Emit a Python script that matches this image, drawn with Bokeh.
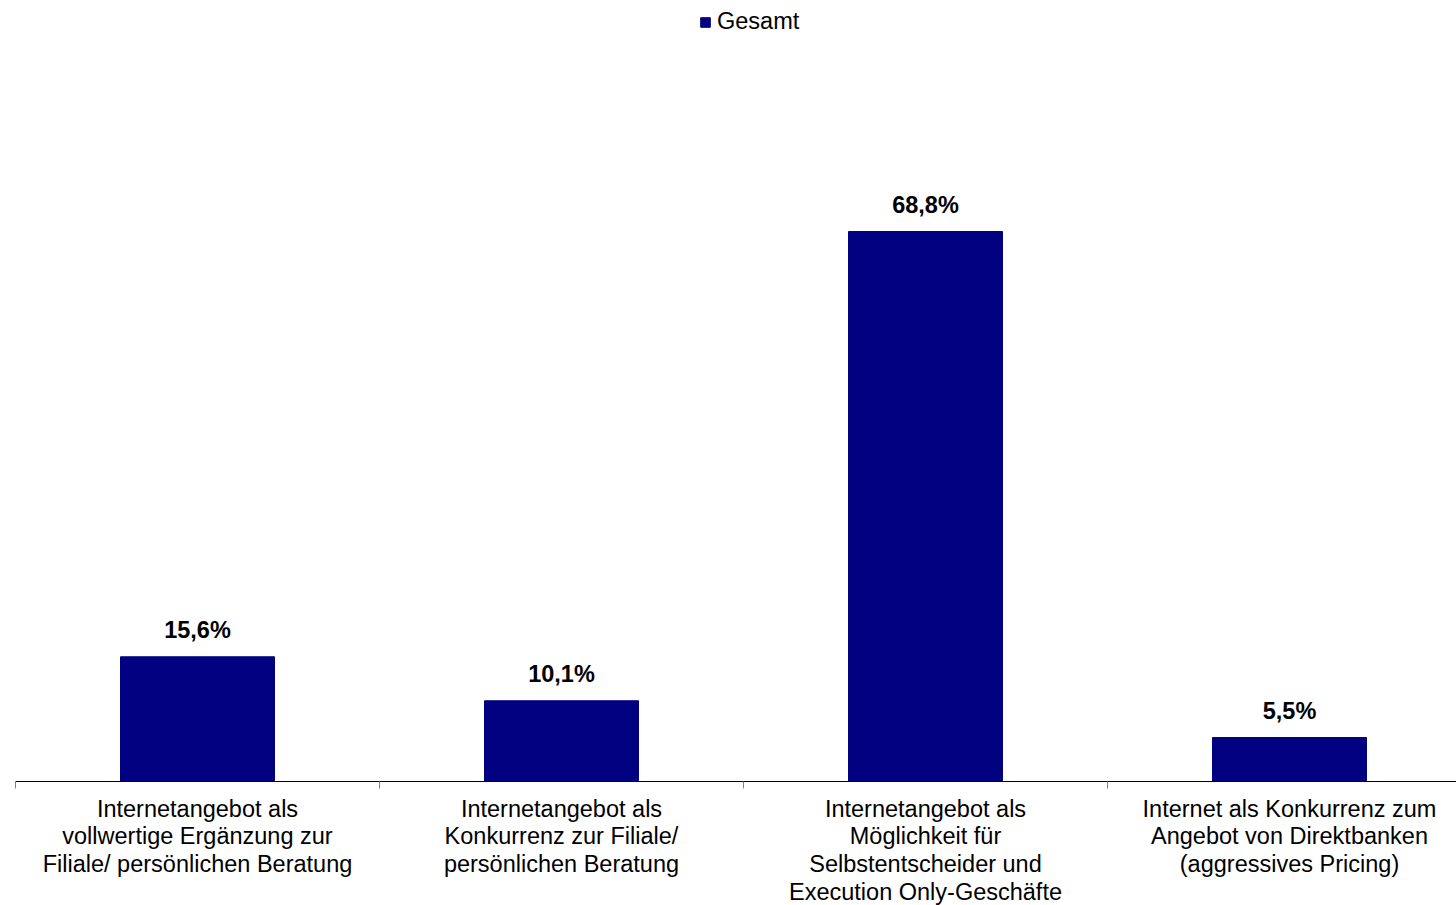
from bokeh.plotting import figure
from bokeh.models import FixedTicker, Legend, LegendItem, ColumnDataSource
from bokeh.core.properties import value
from bokeh.embed import file_html
from bokeh.resources import INLINE

categories = [
    "Internetangebot als\nvollwertige Ergänzung zur\nFiliale/ persönlichen Beratung",
    "Internetangebot als\nKonkurrenz zur Filiale/\npersönlichen Beratung",
    "Internetangebot als\nMöglichkeit für\nSelbstentscheider und\nExecution Only-Geschäfte",
    "Internet als Konkurrenz zum\nAngebot von Direktbanken\n(aggressives Pricing)",
]
values = [15.6, 10.1, 68.8, 5.5]
labels = ["15,6%", "10,1%", "68,8%", "5,5%"]
series_name = "Gesamt"

FONT = "Liberation Sans"
NAVY = "#000080"

centers = [i + 0.5 for i in range(len(categories))]
boundaries = [float(i) for i in range(len(categories))]

src = ColumnDataSource(dict(x=centers, top=values, label=labels))

p = figure(
    frame_width=1441, frame_height=781,
    x_range=(0, 1441 / 364), y_range=(0, 781 / 7.994),
    output_backend="svg", toolbar_location=None,
    y_axis_location=None,
    min_border_left=15, min_border_right=0, min_border_top=0, min_border_bottom=0,
)
p.outline_line_color = None
p.xgrid.visible = False
p.ygrid.visible = False
p.background_fill_color = "white"

bars = p.vbar(x="x", top="top", width=0.423, source=src, fill_color=NAVY, line_color=NAVY)

p.text(x="x", y="top", text="label", source=src, text_align="center",
       text_baseline="alphabetic", y_offset=-27,
       text_font=value(FONT), text_font_size="23.5px", text_font_style="bold",
       text_color="black")

ax = p.xaxis[0]
ax.ticker = FixedTicker(ticks=centers, minor_ticks=boundaries)
ax.major_label_overrides = {c: lab for c, lab in zip(centers, categories)}
ax.major_tick_out = 0
ax.major_tick_in = 0
ax.minor_tick_out = 7
ax.minor_tick_in = 0
ax.minor_tick_line_color = "#808080"
ax.axis_line_color = "black"
ax.axis_line_width = 1
ax.major_label_standoff = 7
ax.major_label_text_font = FONT
ax.major_label_text_font_size = "23.5px"
ax.major_label_text_line_height = 1.07
ax.major_label_text_color = "black"
ax.major_label_text_align = "center"

legend = Legend(
    items=[LegendItem(label=series_name, renderers=[bars])],
    location=(684, 746),
    padding=0, margin=0, spacing=0,
    glyph_width=12, glyph_height=12, label_standoff=6,
    label_text_font=FONT, label_text_font_size="23.5px", label_text_color="black",
    border_line_color=None, background_fill_alpha=0,
)
p.add_layout(legend)

open("out.html", "w").write(file_html(p, INLINE))
